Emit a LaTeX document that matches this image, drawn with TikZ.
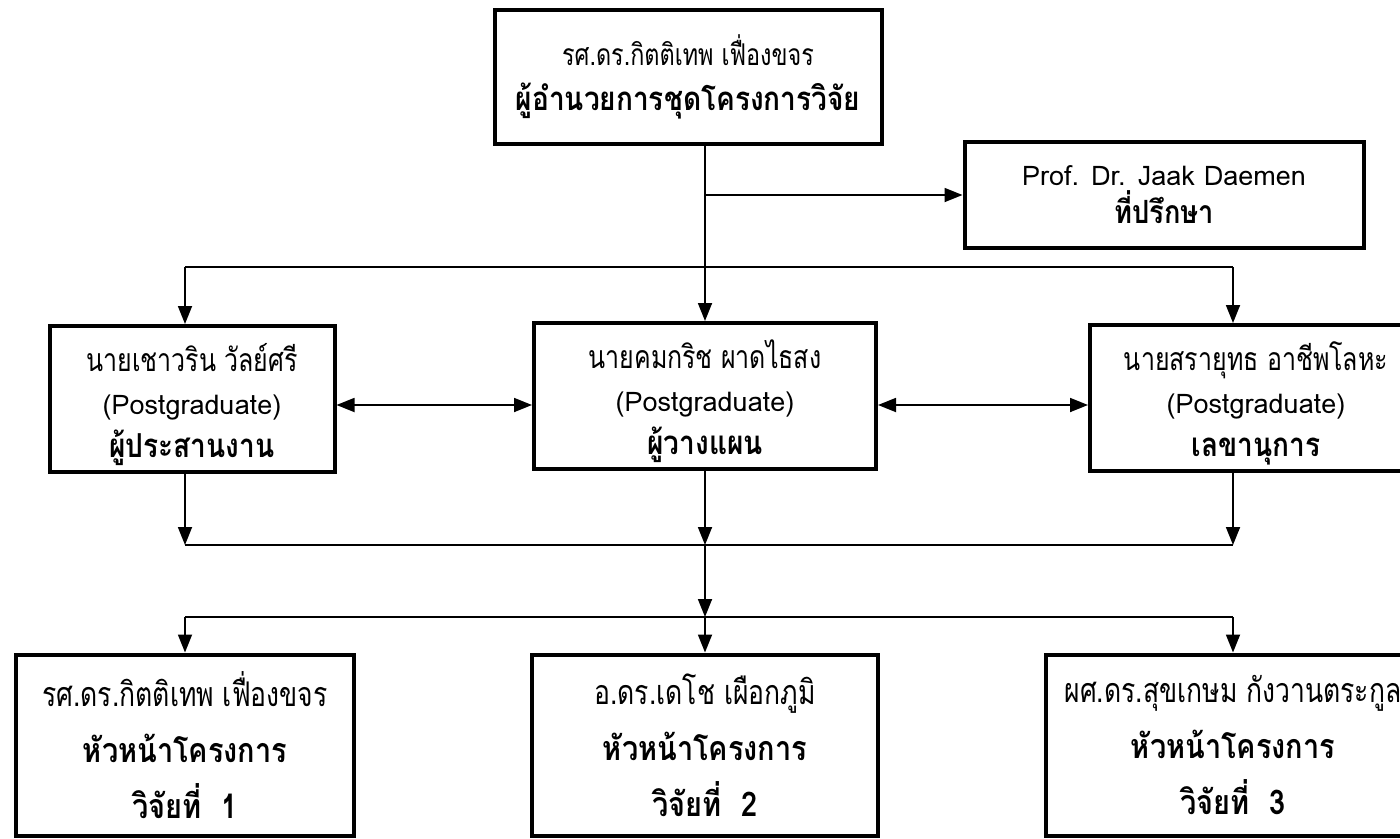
\documentclass[tikz,border=0pt]{standalone}
\usepackage{fontspec}
\newfontfamily\thaifont[Script=Thai, FakeStretch=0.78]{Loma}
\newfontfamily\thaiheavy[Script=Thai, FakeStretch=0.85]{Loma}
\newfontfamily\latinfont{Loma}
\usetikzlibrary{arrows.meta}

\newcommand\heavytxt[2]{{\thaiheavy\bfseries\fontsize{#1}{#1}\selectfont #2}}
\newcommand\latintxt[2]{{\latinfont\fontsize{#1}{#1}\selectfont #2}}

\tikzset{
  box/.style={draw, line width=4pt, align=center, inner sep=0pt},
  topfont/.style={font=\thaifont\fontsize{30}{45}\selectfont},
  advfont/.style={font=\thaifont\fontsize{27}{38}\selectfont},
  staffont/.style={font=\thaifont\fontsize{32}{43}\selectfont},
  headfont/.style={font=\thaifont\fontsize{34}{56}\selectfont},
  link/.style={line width=1.8pt},
  arrowlink/.style={link, -{Triangle[length=18pt,width=14pt]}},
  twoway/.style={link, {Triangle[length=18pt,width=14pt]}-{Triangle[length=18pt,width=14pt]}},
}

\begin{document}
\begin{tikzpicture}[x=1pt, y=-1pt]

% General parameters
\def\colMid{705}      % x of the middle column of arrows
\def\busTop{267}      % y of the line feeding the staff boxes
\def\sideY{405}       % y of the two-way arrows
\def\busMid{545}      % y of the line gathering the staff boxes
\def\busLow{617}      % y of the line feeding the project heads
\def\lift{\rule{0pt}{40pt}}  % pushes the staff texts a bit down

\useasboundingbox (0,0) rectangle (1400,838);

% Director
\node[box, topfont, minimum width=387, minimum height=134] (director) at (688,77)
  {รศ.ดร.กิตติเทพ เฟื่องขจร\\ \heavytxt{33}{ผู้อำนวยการชุดโครงการวิจัย}};

% Advisor
\node[box, advfont, minimum width=399, minimum height=106] (advisor) at (1164,195)
  {\latintxt{27}{Prof. Dr. Jaak Daemen}\\ \heavytxt{32}{ที่ปรึกษา}};

% Staff row
\node[box, staffont, minimum width=285, minimum height=146] (coordinator) at (192,399)
  {\lift นายเชาวริน วัลย์ศรี\\ \latintxt{27}{(Postgraduate)}\\ \heavytxt{33}{ผู้ประสานงาน}};
\node[box, staffont, minimum width=342, minimum height=146] (planner) at (\colMid,396)
  {\lift นายคมกริช ผาดไธสง\\ \latintxt{27}{(Postgraduate)}\\ \heavytxt{33}{ผู้วางแผน}};
\node[box, staffont, minimum width=332, minimum height=146] (secretary) at (1256,398)
  {\lift นายสรายุทธ อาชีพโลหะ\\ \latintxt{27}{(Postgraduate)}\\ \heavytxt{33}{เลขานุการ}};

% Project heads row
\node[box, headfont, minimum width=338, minimum height=181] (head1) at (185,745)
  {รศ.ดร.กิตติเทพ เฟื่องขจร\\ \heavytxt{34}{หัวหน้าโครงการ}\\ \heavytxt{34}{วิจัยที่~ 1}};
\node[box, headfont, minimum width=346, minimum height=181] (head2) at (\colMid,745)
  {อ.ดร.เดโช เผือกภูมิ\\ \heavytxt{34}{หัวหน้าโครงการ}\\ \heavytxt{34}{วิจัยที่~ 2}};
\node[box, headfont, minimum width=375, minimum height=181] (head3) at (1233,745)
  {ผศ.ดร.สุขเกษม กังวานตระกูล\\ \heavytxt{34}{หัวหน้าโครงการ}\\ \heavytxt{34}{วิจัยที่~ 3}};

% Junction points
\coordinate (feed) at (\colMid,\busTop);
\coordinate (side) at (\colMid,\sideY);
\coordinate (gather) at (\colMid,\busMid);
\coordinate (spread) at (\colMid,\busLow);

% Director down to planner, and out to advisor
\draw[arrowlink] (director.south -| planner.north) -- (planner.north);
\draw[arrowlink] (planner.north |- advisor.west) -- (advisor.west);

% Top bus to the side boxes
\draw[link] (head1.north |- feed) -- (head3.north |- feed);
\draw[arrowlink] (head1.north |- feed) -- (head1.north |- coordinator.north);
\draw[arrowlink] (head3.north |- feed) -- (head3.north |- secretary.north);

% Two-way arrows between the staff
\draw[twoway] (coordinator.east |- side) -- (planner.west |- side);
\draw[twoway] (planner.east |- side) -- (secretary.west |- side);

% Staff down to the gathering bus
\draw[arrowlink] (head1.north |- coordinator.south) -- (head1.north |- gather);
\draw[arrowlink] (planner.south) -- (gather);
\draw[arrowlink] (head3.north |- secretary.south) -- (head3.north |- gather);
\draw[link] (head1.north |- gather) -- (head3.north |- gather);

% Gathering bus down to the project heads
\draw[arrowlink] (gather) -- (spread);
\draw[link] (head1.north |- spread) -- (head3.north |- spread);
\foreach \h in {head1,head2,head3}
  \draw[arrowlink] (\h.north |- spread) -- (\h.north);

\end{tikzpicture}
\end{document}
